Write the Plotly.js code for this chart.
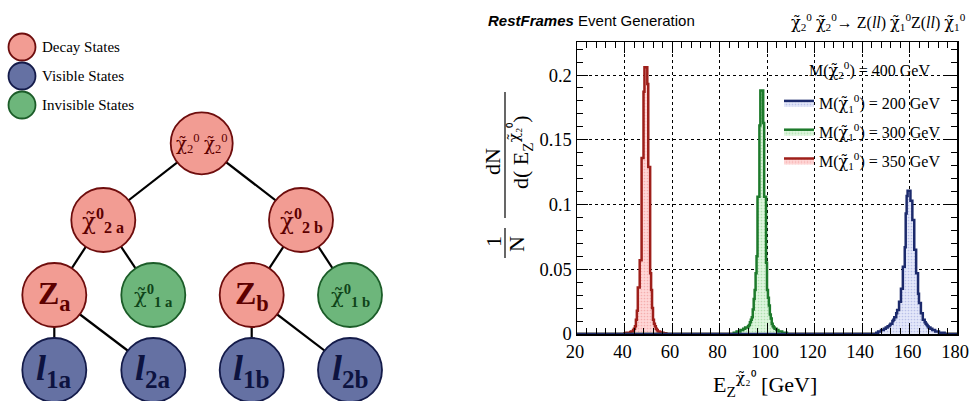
<!DOCTYPE html>
<html>
<head>
<meta charset="utf-8">
<script src="https://cdn.plot.ly/plotly-3.0.1.min.js"></script>
<style>
html,body{margin:0;padding:0;background:#fff;}
#chart{width:969px;height:401px;}
</style>
</head>
<body>
<div id="chart"></div>
<script>
// ---------------- DATA ----------------
var binWidth = 0.4;           // GeV
var xRangeMin = 20, xRangeMax = 180;

var CHI = '<span style="font-family:DejaVu Serif">χ̃</span>';
var seriesNames = ["M(" + CHI + "<sub>1</sub><sup>0</sup>) = 350 GeV",
                   "M(" + CHI + "<sub>1</sub><sup>0</sup>) = 300 GeV",
                   "M(" + CHI + "<sub>1</sub><sup>0</sup>) = 200 GeV"];

// M(chi1) = 350 GeV
var redStart = 40.0;
var redValues = [0.0005,0.0005,0.001,0.001,0.001,0.001,0.0015,0.002,0.002,0.003,
                 0.004,0.006,0.011,0.018,0.036,0.036,0.057,0.057,0.136,0.136,
                 0.187,0.206,0.206,0.206,0.193,0.129,0.129,0.047,0.034,0.020,
                 0.011,0.008,0.006,0.004,0.003,0.002,0.002,0.0015,0.001,0.001,
                 0.001,0.0005,0.0005,0.0005];

// M(chi1) = 300 GeV
var greenStart = 86.0;
var greenValues = [0.001,0.001,0.001,0.002,0.002,0.002,0.002,0.003,0.003,0.003,
                   0.004,0.004,0.005,0.005,0.005,0.006,0.007,0.009,0.011,0.013,
                   0.019,0.027,0.034,0.047,0.060,0.106,0.106,0.161,0.188,0.188,
                   0.188,0.163,0.106,0.106,0.055,0.034,0.028,0.022,0.015,0.012,
                   0.008,0.006,0.005,0.004,0.004,0.003,0.003,0.002,0.002,0.002,
                   0.002,0.001,0.001,0.001,0.001,0.001];

// M(chi1) = 200 GeV
var blueStart = 146.0;
var blueValues = [0.001,0.001,0.002,0.002,0.002,0.003,0.003,0.003,0.004,0.004,
                  0.005,0.005,0.006,0.006,0.007,0.008,0.008,0.010,0.011,0.013,
                  0.013,0.016,0.0185,0.0185,0.025,0.025,0.035,0.035,0.052,0.052,
                  0.067,0.093,0.1066,0.1107,0.1107,0.1107,0.103,0.103,0.088,0.088,
                  0.065,0.065,0.047,0.047,0.031,0.024,0.024,0.016,0.016,0.011,
                  0.011,0.009,0.008,0.007,0.006,0.005,0.005,0.004,0.004,0.003,
                  0.003,0.003,0.002,0.002,0.002,0.002,0.001,0.001,0.001,0.001,
                  0.001,0.001];

var xTickVals = [20,40,60,80,100,120,140,160,180];
var yTickVals = [0,0.05,0.1,0.15,0.2];
var yTickText = ["0","0.05","0.1","0.15","0.2"];

// ---------------- HELPERS ----------------
function stepTrace(start, vals, name, group, rank, lineColor, fillColor, fgColor){
  var xs=[xRangeMin], ys=[0];
  for(var i=0;i<vals.length;i++){ xs.push(start+i*binWidth); ys.push(vals[i]); }
  xs.push(start+vals.length*binWidth); ys.push(0);
  xs.push(xRangeMax); ys.push(0);
  return {
    type:'scatter', mode:'lines', x:xs, y:ys, name:name, legendgroup:group, legendrank:rank,
    line:{shape:'hv', color:lineColor, width:2.5},
    fill:'tozeroy', fillcolor:fillColor,
    fillpattern:{shape:'.', bgcolor:fillColor, fgcolor:fgColor, size:3, solidity:0.25},
    hoverinfo:'skip'
  };
}
var W=969, H=401;
function P(px){return px/W;}
function Q(py){return 1-py/H;}

var traces = [
  stepTrace(redStart, redValues, seriesNames[0], 'c', 3, '#9e1f1a', 'rgba(255,215,215,1)', 'rgba(245,175,175,1)'),
  stepTrace(greenStart, greenValues, seriesNames[1], 'b', 2, '#1d7a2b', 'rgba(222,246,222,1)', 'rgba(175,225,175,1)'),
  stepTrace(blueStart, blueValues, seriesNames[2], 'a', 1, '#1c2a6c', 'rgba(228,232,250,1)', 'rgba(185,192,232,1)')
];

// ---------------- TREE DIAGRAM ----------------
var decayFill='#f29c93', decayLine='#6e0d0d', decayText='#5c0000';
var visFill='#6571a3', visLine='#141b4a', visText='#0d1340';
var invFill='#6db67b', invLine='#1b5c28', invText='#0f4419';

var nodes = {
  root:{x:201.7,y:143.3,r:31,t:'d',label:CHI+'<sub>2</sub><sup>0</sup> '+CHI+'<sub>2</sub><sup>0</sup>',size:18},
  c2a:{x:103.3,y:220,r:32,t:'d',label:CHI+'<sup><b>0</b></sup><sub><b>2 a</b></sub>',size:23},
  c2b:{x:301,y:220,r:32,t:'d',label:CHI+'<sup><b>0</b></sup><sub><b>2 b</b></sub>',size:23},
  za:{x:54.3,y:295,r:32,t:'d',label:'<b>Z<sub>a</sub></b>',size:32},
  c1a:{x:153.3,y:295,r:32,t:'i',label:CHI+'<sup><b>0</b></sup><sub><b>1 a</b></sub>',size:21},
  zb:{x:251.7,y:295,r:32,t:'d',label:'<b>Z<sub>b</sub></b>',size:32},
  c1b:{x:350,y:295,r:32,t:'i',label:CHI+'<sup><b>0</b></sup><sub><b>1 b</b></sub>',size:21},
  l1a:{x:54.3,y:370,r:32,t:'v',label:'<b><i>l</i><sub>1a</sub></b>',size:36},
  l2a:{x:153.3,y:370,r:32,t:'v',label:'<b><i>l</i><sub>2a</sub></b>',size:36},
  l1b:{x:251.7,y:370,r:32,t:'v',label:'<b><i>l</i><sub>1b</sub></b>',size:36},
  l2b:{x:350,y:370,r:32,t:'v',label:'<b><i>l</i><sub>2b</sub></b>',size:36}
};
var edges=[['root','c2a'],['root','c2b'],['c2a','za'],['c2a','c1a'],['c2b','zb'],['c2b','c1b'],
           ['za','l1a'],['za','l2a'],['zb','l1b'],['zb','l2b']];
var styles={d:[decayFill,decayLine,decayText],v:[visFill,visLine,visText],i:[invFill,invLine,invText]};

var shapes=[], annotations=[];
edges.forEach(function(e){
  var a=nodes[e[0]], b=nodes[e[1]];
  shapes.push({type:'line',xref:'paper',yref:'paper',x0:P(a.x),y0:Q(a.y),x1:P(b.x),y1:Q(b.y),
               line:{color:'#000',width:2.2}});
});
function circle(cx,cy,r,fill,line){
  shapes.push({type:'circle',xref:'paper',yref:'paper',x0:P(cx-r),x1:P(cx+r),y0:Q(cy+r),y1:Q(cy-r),
               fillcolor:fill,line:{color:line,width:1.8}});
}
Object.keys(nodes).forEach(function(k){
  var n=nodes[k], s=styles[n.t];
  circle(n.x,n.y,n.r,s[0],s[1]);
  annotations.push({xref:'paper',yref:'paper',x:P(n.x),y:Q(n.y),xanchor:'center',yanchor:'middle',
    text:n.label,showarrow:false,font:{family:'Liberation Serif, serif',size:n.size,color:s[2]}});
});
// left legend
var legItems=[['Decay States',decayFill,decayLine,47],['Visible States',visFill,visLine,76],['Invisible States',invFill,invLine,105]];
legItems.forEach(function(it){
  circle(22,it[3],13.5,it[1],it[2]);
  annotations.push({xref:'paper',yref:'paper',x:P(40),y:Q(it[3]),xanchor:'left',yanchor:'middle',
    text:it[0],showarrow:false,font:{family:'Liberation Serif, serif',size:15,color:'#000'}});
});

// ---------------- PLOT TEXTS ----------------
annotations.push({xref:'paper',yref:'paper',x:P(486),y:Q(20),xanchor:'left',yanchor:'middle',showarrow:false,
  text:'<b><i>RestFrames</i></b> Event Generation',font:{family:'Liberation Sans, Arial, sans-serif',size:15,color:'#000'}});
annotations.push({xref:'paper',yref:'paper',x:P(968),y:Q(22),xanchor:'right',yanchor:'middle',showarrow:false,
  text:CHI+'<sub>2</sub><sup>0</sup> '+CHI+'<sub>2</sub><sup>0</sup>→ Z(<i>ll</i>) '+CHI+'<sub>1</sub><sup>0</sup>Z(<i>ll</i>) '+CHI+'<sub>1</sub><sup>0</sup>',
  font:{family:'Liberation Serif, serif',size:16,color:'#000'}});
annotations.push({xref:'paper',yref:'paper',x:P(869),y:Q(70),xanchor:'center',yanchor:'middle',showarrow:false,
  text:'M('+CHI+'<sub>2</sub><sup>0</sup>) = 400 GeV',font:{family:'Liberation Serif, serif',size:16,color:'#000'}});
// x title
annotations.push({xref:'paper',yref:'paper',x:P(765),y:Q(384),xanchor:'center',yanchor:'middle',showarrow:false,
  text:'E<sub>Z</sub><sup>'+CHI+'₂⁰</sup> [GeV]',font:{family:'Liberation Serif, serif',size:22,color:'#000'}});
// y title pieces (rotated)
var ytf={family:'Liberation Serif, serif',size:22,color:'#000'};
annotations.push({xref:'paper',yref:'paper',x:P(493),y:Q(242),xanchor:'center',yanchor:'middle',showarrow:false,textangle:-90,text:'1',font:ytf});
annotations.push({xref:'paper',yref:'paper',x:P(517),y:Q(244),xanchor:'center',yanchor:'middle',showarrow:false,textangle:-90,text:'N',font:ytf});
annotations.push({xref:'paper',yref:'paper',x:P(493),y:Q(162),xanchor:'center',yanchor:'middle',showarrow:false,textangle:-90,text:'dN',font:ytf});
annotations.push({xref:'paper',yref:'paper',x:P(521),y:Q(152),xanchor:'center',yanchor:'middle',showarrow:false,textangle:-90,
  text:'d( E<sub>Z</sub><sup>'+CHI+'₂⁰</sup>)',font:ytf});
shapes.push({type:'line',xref:'paper',yref:'paper',x0:P(505),x1:P(505),y0:Q(228),y1:Q(258),line:{color:'#000',width:1.2}});
shapes.push({type:'line',xref:'paper',yref:'paper',x0:P(505),x1:P(505),y0:Q(92),y1:Q(218),line:{color:'#000',width:1.2}});

var axFont={family:'Liberation Serif, serif',size:18.5,color:'#000'};
var layout={
  width:W,height:H,margin:{l:0,r:0,t:0,b:0},
  paper_bgcolor:'#fff',plot_bgcolor:'#fff',
  showlegend:true,
  legend:{x:P(779),y:Q(86),xanchor:'left',yanchor:'top',traceorder:'grouped',
          font:{family:'Liberation Serif, serif',size:16,color:'#000'},bgcolor:'rgba(0,0,0,0)',
          itemwidth:30,tracegroupgap:5},
  xaxis:{domain:[P(577),P(957)],range:[xRangeMin,xRangeMax],tickvals:xTickVals,ticks:'inside',ticklen:11,
         tickwidth:1,tickcolor:'#000',showline:true,linecolor:'#000',linewidth:1.5,mirror:'allticks',
         ticklabeloverflow:'allow',ticklabelshift:-2,
         showgrid:true,gridcolor:'#000',griddash:'dot',gridwidth:1,zeroline:false,tickfont:axFont,
         minor:{dtick:4,ticks:'inside',ticklen:6,tickcolor:'#000',showgrid:false}},
  yaxis:{domain:[Q(334),Q(42)],range:[0,0.2255],tickvals:yTickVals,ticktext:yTickText,ticks:'inside',ticklen:11,
         tickwidth:1,tickcolor:'#000',showline:true,linecolor:'#000',linewidth:1.5,mirror:'allticks',
         showgrid:true,gridcolor:'#000',griddash:'dot',gridwidth:1,zeroline:false,tickfont:axFont,
         minor:{dtick:0.01,ticks:'inside',ticklen:6,tickcolor:'#000',showgrid:false}},
  shapes:shapes,annotations:annotations
};
Plotly.newPlot('chart',traces,layout,{staticPlot:true,displayModeBar:false});
</script>
</body>
</html>
